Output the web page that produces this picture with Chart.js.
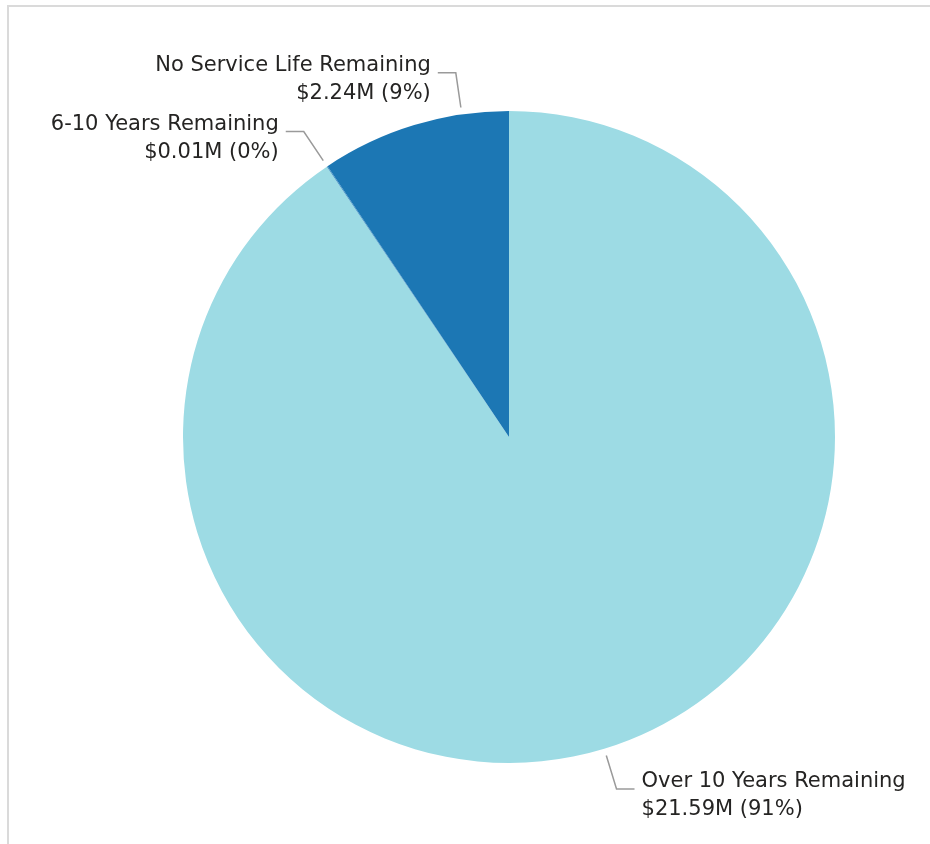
<!DOCTYPE html>
<html lang="en">
<head>
    <meta charset="UTF-8">
    <title>Asset Value by Remaining Service Life</title>
    <style>
        html, body { margin: 0; padding: 0; background: #fff; overflow: hidden; }
        .wrap { position: relative; width: 930px; height: 844px; }
        .frame {
            position: absolute; left: 7px; top: 5px; width: 940px; height: 860px;
            border-top: 2px solid #dadada; border-left: 2px solid #dadada;
        }
        canvas { position: absolute; left: 0; top: 0; }
    </style>
</head>
<body>
    <div class="wrap">
        <div class="frame"></div>
        <canvas id="life-chart" width="930" height="844"></canvas>
    </div>

    <script src="https://cdn.jsdelivr.net/npm/chart.js"></script>
    <script>
        const categories = ['Over 10 Years Remaining', '6-10 Years Remaining', 'No Service Life Remaining'];
        const valuesM = [21.59, 0.01, 2.24];
        const percentLabels = ['91%', '0%', '9%'];
        const colors = ['#9ddbe4', '#3f8fc4', '#1c77b4'];

        // nudge (degrees) applied to a leader's anchor so labels don't collide
        const anchorShift = [0, 0, 8.6];

        const leaderLabels = {
            id: 'leaderLabels',
            afterDatasetsDraw(chart) {
                const ctx = chart.ctx;
                const arcs = chart.getDatasetMeta(0).data;
                ctx.save();
                ctx.font = '21px "DejaVu Sans", Verdana, sans-serif';
                ctx.textBaseline = 'alphabetic';
                arcs.forEach((arc, i) => {
                    const p = arc.getProps(['x', 'y', 'startAngle', 'endAngle', 'outerRadius'], true);
                    const a = (p.startAngle + p.endAngle) / 2 + anchorShift[i] * Math.PI / 180;
                    const cos = Math.cos(a), sin = Math.sin(a);
                    const r0 = p.outerRadius + 7, r1 = p.outerRadius + 42;
                    const sx = p.x + cos * r0, sy = p.y + sin * r0;
                    const ex = p.x + cos * r1, ey = p.y + sin * r1;
                    const dir = cos >= 0 ? 1 : -1;
                    const hx = ex + dir * 18;

                    ctx.strokeStyle = '#9a9a9a';
                    ctx.lineWidth = 1.5;
                    ctx.beginPath();
                    ctx.moveTo(sx, sy);
                    ctx.lineTo(ex, ey);
                    ctx.lineTo(hx, ey);
                    ctx.stroke();

                    ctx.fillStyle = '#252423';
                    ctx.textAlign = dir > 0 ? 'left' : 'right';
                    const tx = hx + dir * 7;
                    ctx.fillText(categories[i], tx, ey - 2);
                    ctx.fillText('$' + valuesM[i].toFixed(2) + 'M (' + percentLabels[i] + ')', tx, ey + 26);
                });
                ctx.restore();
            }
        };

        new Chart(document.getElementById('life-chart'), {
            type: 'pie',
            data: {
                labels: categories,
                datasets: [{
                    data: valuesM,
                    backgroundColor: colors,
                    borderWidth: 0,
                }],
            },
            options: {
                responsive: false,
                animation: false,
                layout: { padding: { top: 111, bottom: 81, left: 183, right: 95 } },
                plugins: {
                    legend: { display: false },
                    tooltip: { enabled: false },
                },
            },
            plugins: [leaderLabels],
        });
    </script>
</body>
</html>
